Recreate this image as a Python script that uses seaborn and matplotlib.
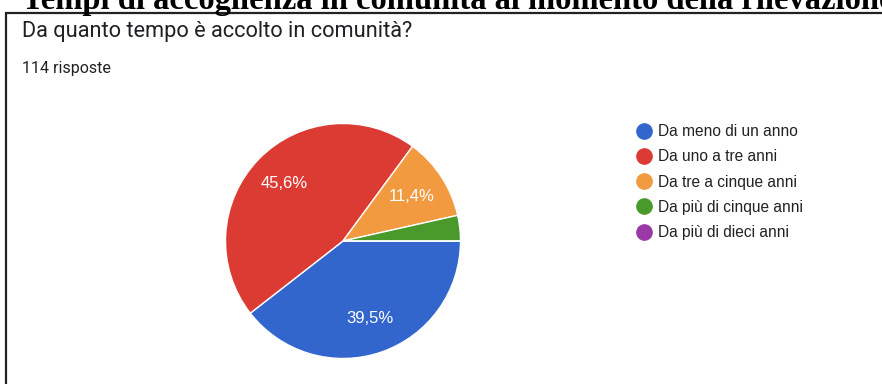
import matplotlib
matplotlib.use("Agg")
import matplotlib.pyplot as plt
from matplotlib.lines import Line2D
from matplotlib.patches import Rectangle
import seaborn as sns

# Survey answers
categories = [
    "Da meno di un anno",
    "Da uno a tre anni",
    "Da tre a cinque anni",
    "Da più di cinque anni",
    "Da più di dieci anni",
]
counts = [45, 52, 13, 4, 0]
total_responses = 114

title = "Tempi di accoglienza in comunità al momento della rilevazione"
question = "Da quanto tempo è accolto in comunità?"
responses_label = f"{total_responses} risposte"

sns.set_theme(style="white")
plt.rcParams["font.family"] = ["Roboto", "DejaVu Sans"]

palette = sns.color_palette(["#3366cc", "#dc3b34", "#f29a40", "#4a9a2b", "#993aa6"])

W, H = 882, 384
fig = plt.figure(figsize=(W / 100, H / 100), dpi=100)

# Frame around the form card
fig.patches.append(Rectangle((6 / W, -0.1), 1.2, 1 - 13 / H + 0.1,
                             transform=fig.transFigure, fill=False,
                             edgecolor="#222222", linewidth=1.6))

fig.text(22 / W, 1 - 9 / H, title, family=["Liberation Serif"], weight="bold",
         fontsize=23.5, va="baseline", ha="left", color="black")
fig.text(22 / W, 1 - 31 / H, question, fontsize=15.7, va="center", ha="left",
         color="#202124")
fig.text(22 / W, 1 - 69 / H, responses_label, fontsize=11.5, va="center", ha="left",
         color="#202124")

# Pie area
cx, cy, r = 343, 241, 117.5
ax = fig.add_axes([(cx - r) / W, (H - cy - r) / H, 2 * r / W, 2 * r / H])


def pct_label(p):
    return f"{p:.1f}%".replace(".", ",") if p >= 5 else ""


wedges, texts, autotexts = ax.pie(
    counts, colors=palette, startangle=0, counterclock=False,
    autopct=pct_label, pctdistance=0.7,
    wedgeprops=dict(edgecolor="white", linewidth=1),
    textprops=dict(color="white", fontsize=12, family=["Liberation Sans"]),
)
ax.set_xlim(-1, 1)
ax.set_ylim(-1, 1)
ax.set_aspect("equal")
ax.axis("off")

handles = [Line2D([0], [0], marker="o", linestyle="", markersize=11,
                  markerfacecolor=c, markeredgecolor=c) for c in palette]
fig.legend(handles, categories, loc="upper left",
           bbox_to_anchor=(621 / W, 1 - 110 / H), frameon=False,
           prop=dict(family=["Liberation Sans"], size=11.2),
           labelspacing=0.66, handletextpad=0.38,
           handlelength=1.1, labelcolor="#222222")

fig.savefig("out.png", dpi=100)
